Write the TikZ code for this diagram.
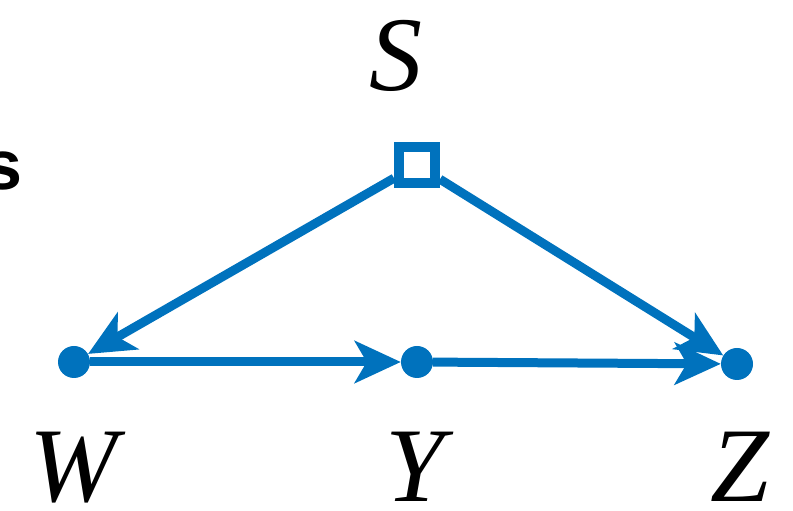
\documentclass[tikz,border=0pt]{standalone}
\usepackage{fontspec}
\setmainfont{Liberation Serif}
\newfontfamily\labsans{Liberation Sans}
\usetikzlibrary{arrows.meta}
\definecolor{cblue}{RGB}{0,114,189}
\begin{document}
\begin{tikzpicture}[x=1pt,y=1pt,
  dot/.style={circle,fill=cblue,inner sep=0pt,minimum size=32pt},
  sq/.style={rectangle,draw=cblue,line width=10pt,inner sep=0pt,minimum size=36pt},
  edge/.style={draw=cblue,line width=9pt,-{Stealth[length=46pt,width=42pt,inset=12pt]}},
  lab/.style={inner sep=0pt,anchor=base,font=\fontsize{106}{106}\selectfont\itshape}]
\useasboundingbox (0,0) rectangle (793,511);
\node[sq] (S) at (417,346) {};
\node[dot] (W) at (74,149) {};
\node[dot] (Y) at (417,149) {};
\node[dot] (Z) at (737,147) {};
\draw[edge] (S) -- (W);
\draw[edge] (S) -- (Z);
\draw[edge] (W) -- (Y);
\draw[edge] (Y) -- (Z);
\node[lab] (lS) at (396,420) {S};
\node[lab] (lW) at (74,9) {W};
\node[lab] (lY) at (415,9) {Y};
\node[lab] (lZ) at (740,9) {Z};
\node[inner sep=0pt,anchor=base east,font=\fontsize{70}{70}\selectfont\labsans\bfseries] (s) at (23,321) {s};
\end{tikzpicture}
\end{document}
